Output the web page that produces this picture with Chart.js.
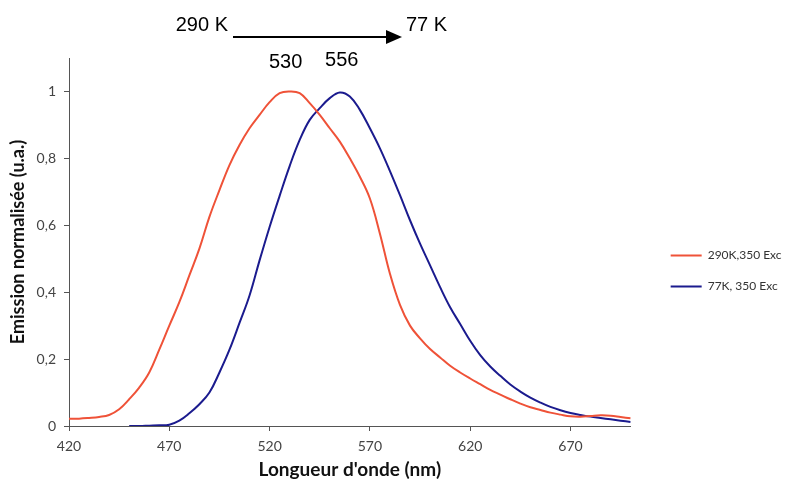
<!DOCTYPE html>
<html>
<head>
<meta charset="utf-8">
<script src="https://cdn.jsdelivr.net/npm/chart.js@4/dist/chart.umd.min.js"></script>
<style>
  html, body { margin: 0; padding: 0; background: #fff; }
  #wrap { width: 785px; height: 484px; }
</style>
</head>
<body>
<div id="wrap"><canvas id="spectre" width="785" height="484"></canvas></div>
<script>
// wavelengths (nm), one sample every 5 nm
var wavelengths = [420, 425, 430, 435, 440, 445, 450, 455, 460, 465, 470, 475, 480, 485, 490, 495,
    500, 505, 510, 515, 520, 525, 530, 535, 540, 545, 550, 555, 560, 565, 570, 575, 580, 585, 590, 595,
    600, 605, 610, 615, 620, 625, 630, 635, 640, 645, 650, 655, 660, 665, 670, 675, 680, 685, 690, 695, 700];

// 290K, 350 Exc
var emission290 = [0.022, 0.022, 0.024, 0.027, 0.033, 0.05, 0.08, 0.115, 0.16, 0.228, 0.30, 0.37, 0.45, 0.53, 0.625, 0.705,
    0.78, 0.84, 0.89, 0.93, 0.968, 0.995, 1.0, 0.995, 0.965, 0.93, 0.89, 0.85, 0.80, 0.745, 0.68, 0.575, 0.455, 0.362, 0.30, 0.262,
    0.23, 0.205, 0.18, 0.16, 0.142, 0.125, 0.108, 0.094, 0.08, 0.067, 0.056, 0.048, 0.04, 0.034, 0.029, 0.028, 0.03, 0.032, 0.031, 0.027, 0.023];

// 77K, 350 Exc (no signal recorded below 450 nm)
var emission77 = [null, null, null, null, null, null, 0.0, 0.0, 0.001, 0.002, 0.004, 0.016, 0.038, 0.065, 0.10, 0.16,
    0.228, 0.308, 0.39, 0.495, 0.595, 0.688, 0.777, 0.855, 0.915, 0.95, 0.98, 0.997, 0.985, 0.945, 0.89, 0.83, 0.762, 0.69, 0.615, 0.545,
    0.48, 0.415, 0.355, 0.305, 0.255, 0.212, 0.178, 0.15, 0.124, 0.103, 0.085, 0.07, 0.057, 0.047, 0.039, 0.033, 0.028, 0.024, 0.02, 0.016, 0.012];

var seriesLabels = ['290K,350 Exc', '77K, 350 Exc'];
var xTicks = [420, 470, 520, 570, 620, 670];
var yTicks = [0, 0.2, 0.4, 0.6, 0.8, 1];
var peaks = [530, 556];

var FONT = 'Lato, "Open Sans", sans-serif';

function toPoints(values) {
    return wavelengths.map(function (wl, i) {
        return { x: wl, y: values[i] };
    });
}

// arrow "290 K -> 77 K" and peak positions above the curves
var annotations = {
    id: 'annotations',
    afterDraw: function (chart) {
        var ctx = chart.ctx;
        var x = chart.scales.x;
        ctx.save();
        ctx.fillStyle = '#000';
        ctx.strokeStyle = '#000';
        ctx.font = '20px "Liberation Sans", Arial, sans-serif';
        ctx.textBaseline = 'middle';
        ctx.textAlign = 'right';
        ctx.fillText('290 K', 228, 25);
        ctx.textAlign = 'left';
        ctx.fillText('77 K', 406, 25);

        ctx.lineWidth = 2;
        ctx.beginPath();
        ctx.moveTo(233, 37);
        ctx.lineTo(390, 37);
        ctx.stroke();
        ctx.beginPath();
        ctx.moveTo(402, 37);
        ctx.lineTo(386, 30);
        ctx.lineTo(386, 44);
        ctx.closePath();
        ctx.fill();

        ctx.textAlign = 'center';
        ctx.fillText(String(peaks[0]), x.getPixelForValue(peaks[0]) - 4, 62);
        ctx.fillText(String(peaks[1]), x.getPixelForValue(peaks[1]), 60);
        ctx.restore();
    }
};

new Chart(document.getElementById('spectre').getContext('2d'), {
    type: 'line',
    data: {
        datasets: [
            {
                label: seriesLabels[0],
                data: toPoints(emission290),
                borderColor: '#ef5238',
                backgroundColor: '#ef5238',
                borderWidth: 2,
                pointRadius: 0,
                tension: 0.4
            },
            {
                label: seriesLabels[1],
                data: toPoints(emission77),
                borderColor: '#1b1b8e',
                backgroundColor: '#1b1b8e',
                borderWidth: 2,
                pointRadius: 0,
                tension: 0.4
            }
        ]
    },
    options: {
        responsive: false,
        animation: false,
        devicePixelRatio: 1,
        layout: { padding: { top: 58, left: 0, right: 3, bottom: 0 } },
        plugins: {
            tooltip: { enabled: false },
            legend: {
                position: 'right',
                align: 'center',
                labels: {
                    usePointStyle: true,
                    pointStyle: 'line',
                    pointStyleWidth: 31,
                    padding: 19,
                    color: '#333',
                    font: { family: FONT, size: 12 }
                }
            }
        },
        scales: {
            x: {
                type: 'linear',
                min: 420,
                max: 700,
                afterBuildTicks: function (scale) {
                    scale.ticks = xTicks.map(function (v) { return { value: v }; });
                },
                afterFit: function (scale) { scale.height = 58; },
                ticks: {
                    autoSkip: false,
                    maxRotation: 0,
                    padding: 7,
                    color: '#444',
                    font: { family: FONT, size: 14 },
                    callback: function (v) { return String(v); }
                },
                grid: { drawOnChartArea: false, tickLength: 5, color: '#555' },
                border: { color: '#555', width: 1 },
                title: {
                    display: true,
                    text: "Longueur d'onde (nm)",
                    color: '#111',
                    padding: { top: 0, bottom: 3 },
                    font: { family: FONT, size: 19, weight: 'bold' }
                }
            },
            y: {
                min: 0,
                max: 1.1,
                afterBuildTicks: function (scale) {
                    scale.ticks = yTicks.map(function (v) { return { value: v }; });
                },
                afterFit: function (scale) { scale.width = 69; },
                ticks: {
                    padding: 8,
                    color: '#444',
                    font: { family: FONT, size: 14 },
                    callback: function (v) { return String(v).replace('.', ','); }
                },
                grid: { drawOnChartArea: false, tickLength: 5, color: '#555' },
                border: { color: '#555', width: 1 },
                title: {
                    display: true,
                    text: 'Emission normalisée (u.a.)',
                    color: '#111',
                    padding: { top: 7, bottom: 0 },
                    font: { family: FONT, size: 18, weight: 'bold' }
                }
            },
            gap: {
                type: 'linear',
                axis: 'y',
                position: 'right',
                display: true,
                grid: { display: false },
                border: { display: false },
                ticks: { display: false },
                afterFit: function (scale) { scale.width = 21; }
            }
        }
    },
    plugins: [annotations]
});
</script>
</body>
</html>
